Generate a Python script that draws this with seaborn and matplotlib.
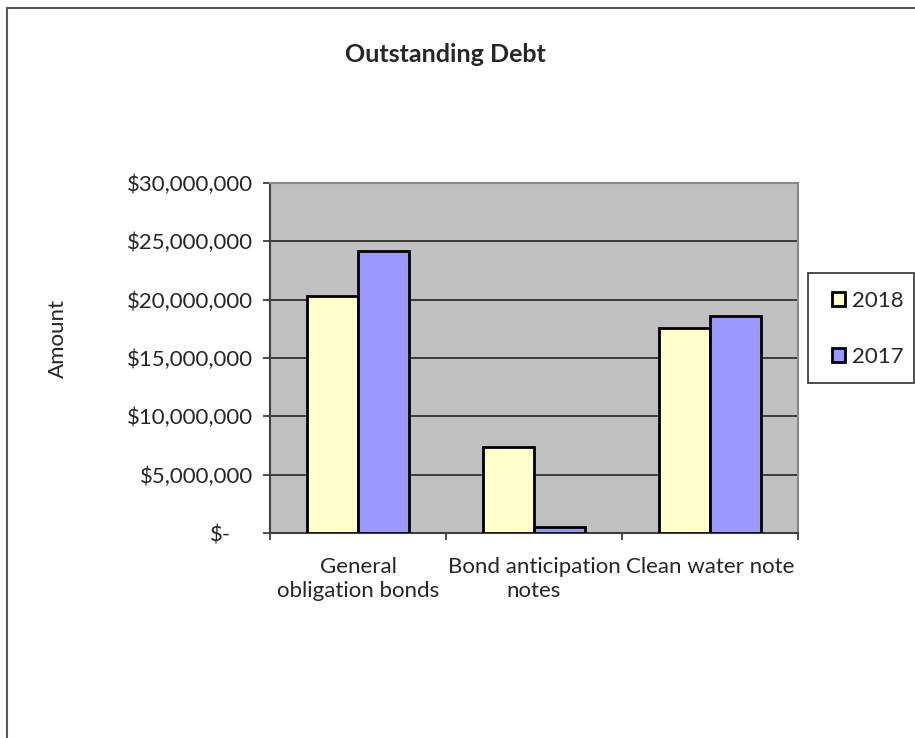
import matplotlib
matplotlib.use("Agg")
import matplotlib.pyplot as plt
import matplotlib.transforms as mtransforms
from matplotlib.patches import Rectangle, Patch
from matplotlib.lines import Line2D
import seaborn as sns
import pandas as pd

# ---- data ----
categories = ["General obligation bonds", "Bond anticipation notes", "Clean water note"]
tick_labels = ["General\nobligation bonds", "Bond anticipation\nnotes", "Clean water note"]
years = ["2018", "2017"]
amounts_2018 = [20340000, 7330000, 17570000]
amounts_2017 = [24130000, 540000, 18630000]
y_ticks = [0, 5000000, 10000000, 15000000, 20000000, 25000000, 30000000]
y_tick_labels = ["$-", "$5,000,000", "$10,000,000", "$15,000,000", "$20,000,000", "$25,000,000", "$30,000,000"]
colors = {"2018": "#FFFFCC", "2017": "#9999FF"}

df = pd.DataFrame({
    "category": categories * 2,
    "year": ["2018"] * 3 + ["2017"] * 3,
    "amount": amounts_2018 + amounts_2017,
})

W, H = 915, 738
fig = plt.figure(figsize=(W / 100, H / 100), dpi=100)
plt.rcParams["font.family"] = ["Lato", "DejaVu Sans"]
FS = 16
TXT = "#262626"

def fx(x):
    return x / W

def fy(y):
    return 1 - y / H

ax = fig.add_axes([fx(270), fy(533), fx(798) - fx(270), fy(183) - fy(533)])
ax.set_facecolor("#C0C0C0")

sns.barplot(data=df, x="category", y="amount", hue="year", order=categories,
            hue_order=years, palette=colors, width=0.576, saturation=1,
            edgecolor="black", linewidth=2, ax=ax, legend=False, zorder=3)

ax.set_xlim(-0.5, 2.5)
ax.set_ylim(0, 30000000)
ax.set_yticks(y_ticks)
ax.set_yticklabels(y_tick_labels, fontsize=FS, color=TXT)
ax.set_xticks(range(3))
ax.set_xticklabels(tick_labels, fontsize=FS, color=TXT, linespacing=1.3)
ax.set_xticks([-0.5, 0.5, 1.5, 2.5], minor=True)
ax.tick_params(axis="x", which="major", length=0, pad=17)
ax.tick_params(axis="x", which="minor", length=5, width=1.3, color="#404040", direction="out")
ax.tick_params(axis="y", length=5, width=1.3, color="#404040", pad=7, direction="out")
ax.set_xlabel("")
ax.set_ylabel("")

ax.yaxis.grid(True, color="#303030", linewidth=1.3)
ax.set_axisbelow(True)
for g in ax.get_ygridlines():
    g.set_zorder(1)

for s in ["left", "bottom"]:
    ax.spines[s].set_color("#404040")
    ax.spines[s].set_linewidth(1.5)
for s in ["top", "right"]:
    ax.spines[s].set_color("#888888")
    ax.spines[s].set_linewidth(1.5)

# shift "$-" label left as in accounting format
zero_lbl = ax.get_yticklabels()[0]
offset = mtransforms.ScaledTranslation(-22 / 100, 0, fig.dpi_scale_trans)
zero_lbl.set_transform(zero_lbl.get_transform() + offset)

# title and axis label
fig.text(fx(445), fy(55), "Outstanding Debt", ha="center", va="center",
         fontsize=18, fontweight="bold", color=TXT)
fig.text(fx(58), fy(339), "Amount", ha="center", va="center", rotation=90,
         fontsize=FS, color=TXT)

# legend
handles = [Patch(facecolor=colors[y], edgecolor="black", linewidth=2) for y in years]
fig.patches.append(Rectangle((fx(808), fy(383)), fx(914) - fx(808), fy(273) - fy(383),
                             transform=fig.transFigure, fill=False,
                             edgecolor="#404040", linewidth=1.3))
fig.legend(handles, years, loc="center left", bbox_to_anchor=(fx(832), fy(329)),
           frameon=False, fontsize=FS, handlelength=0.6, handleheight=0.6,
           handletextpad=0.3, labelspacing=1.6, borderpad=0, borderaxespad=0,
           labelcolor=TXT)

# outer chart border
fig.add_artist(Line2D([fx(7), fx(7)], [fy(8), 0], transform=fig.transFigure,
                      color="#555555", linewidth=1.5))
fig.add_artist(Line2D([fx(7), 1], [fy(8), fy(8)], transform=fig.transFigure,
                      color="#555555", linewidth=1.5))

fig.savefig("out.png", dpi=100)
